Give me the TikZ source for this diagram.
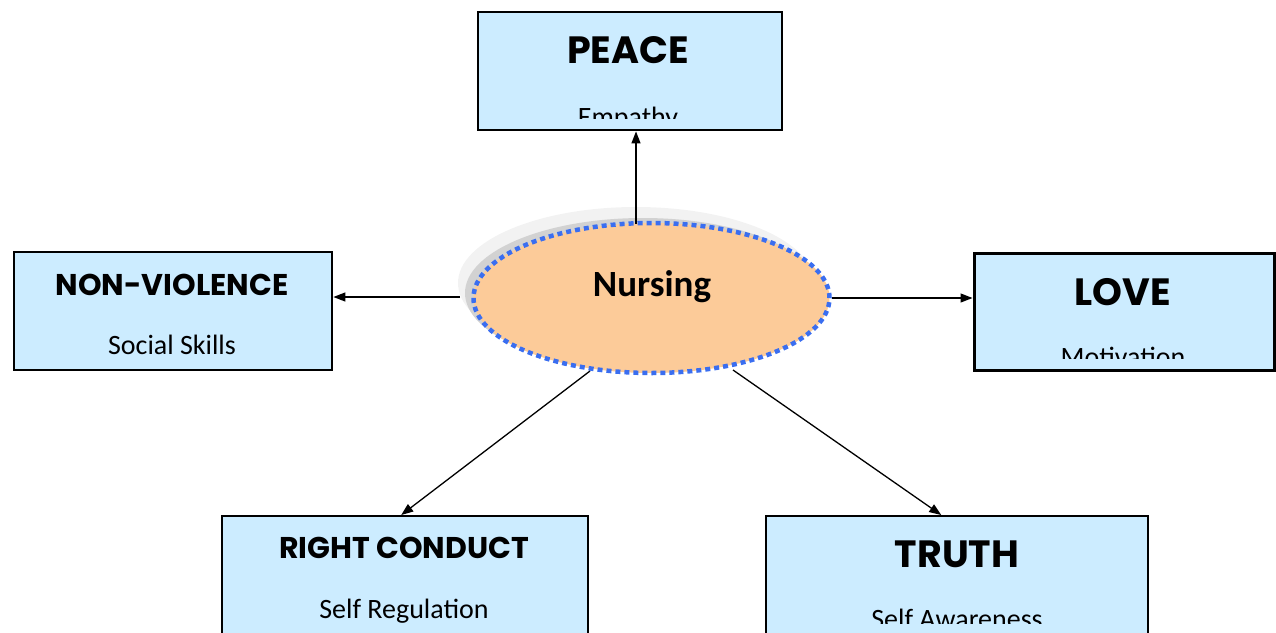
\documentclass[tikz,border=0pt]{standalone}
\usepackage{fontspec}
\setmainfont{Carlito}
\newfontfamily\headfont{Poppins}
\usetikzlibrary{arrows.meta,shapes.geometric,calc}
\definecolor{boxblue}{RGB}{204,236,255}
\definecolor{nursefill}{RGB}{252,203,153}
\definecolor{dotblue}{RGB}{58,110,240}

\begin{document}
\begin{tikzpicture}[x=1pt,y=-1pt,
  card/.style={draw=black, line width=2.4pt, fill=boxblue, rectangle,
    inner sep=0pt, anchor=north west},
  head/.style={font=\headfont\bfseries\fontsize{#1}{#1}\selectfont,
    anchor=base, inner sep=0pt},
  sub/.style={font=\fontsize{28}{28}\selectfont, anchor=base, inner sep=0pt},
  arr/.style={-{Triangle[length=12pt,width=9pt]}, line width=1.3pt},
]
\useasboundingbox (0,0) rectangle (1276,632);

% value boxes
\node[card, minimum width=304, minimum height=118] (peace) at (476.5,11) {};
\node[card, minimum width=318, minimum height=118] (nv) at (13,251) {};
\node[card, line width=3.4pt, minimum width=300, minimum height=117.5] (love) at (972.5,251.5) {};
\node[card, minimum width=366, minimum height=125] (rc) at (221,515) {};
\node[card, minimum width=382, minimum height=125] (truth) at (765,515) {};

% headings
\node[head=38] (peaceT) at (628,63) {PEACE};
\node[head=30] (nvT) at (172,295) {NON-VIOLENCE};
\node[head=38] (loveT) at (1123,305) {LOVE};
\node[head=30] (rcT) at (404,558) {RIGHT CONDUCT};
\node[head=38] (truthT) at (957,567) {TRUTH};

% sub-labels (some cut off by the box interior)
\begin{scope}
  \clip (478,12) rectangle (779,118);
  \node[sub] (peaceS) at (628,126) {Empathy};
\end{scope}
\node[sub] (nvS) at (172,354) {Social Skills};
\begin{scope}
  \clip (974,253) rectangle (1271,358);
  \node[sub] (loveS) at (1123,366) {Motivation};
\end{scope}
\node[sub] (rcS) at (404,618) {Self Regulation};
\begin{scope}
  \clip (767,517) rectangle (1145,623);
  \node[sub] (truthS) at (957,628) {Self Awareness};
\end{scope}

% soft shadow behind the centre ellipse
\fill[gray!10] (636,283) ellipse [x radius=178, y radius=76];
\fill[gray!35] (643,293) ellipse [x radius=178, y radius=75];

% centre ellipse
\node[ellipse, draw=dotblue, fill=nursefill, line width=4.5pt,
  dash pattern=on 5pt off 4pt, minimum width=356, minimum height=150,
  inner sep=0pt] (nurse) at (651.5,298) {};
\node[font=\bfseries\fontsize{37}{37}\selectfont, anchor=base, inner sep=0pt]
  (nurseT) at (652,296) {Nursing};

% connectors
\coordinate (sU) at (636,224);
\coordinate (sL) at (460,297);
\coordinate (sDL) at (590,371);
\coordinate (sDR) at (733,370);
\draw[arr] (sU) -- (sU |- peace.south);
\draw[arr] (sL) -- (sL -| nv.east);
\draw[arr] (nurse.east) -- (nurse.east -| love.west);
\draw[arr] (sDL) -- ($(rc.north)+(-4,0)$);
\draw[arr] (sDR) -- ($(truth.north)+(-16,0)$);
\end{tikzpicture}
\end{document}
